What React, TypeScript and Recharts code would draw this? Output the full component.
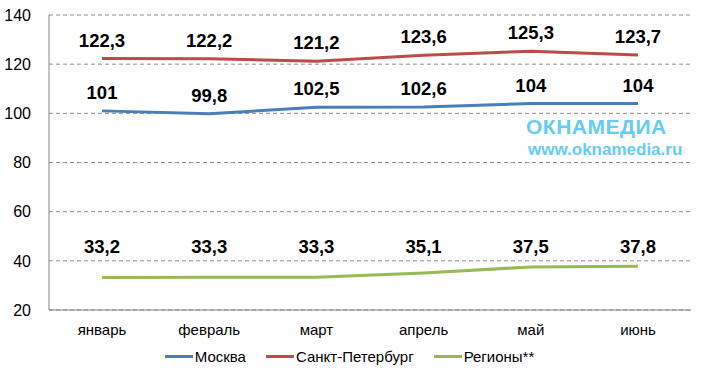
import { LineChart, Line, XAxis, YAxis, CartesianGrid, Legend, LabelList } from 'recharts'

const months = ['январь', 'февраль', 'март', 'апрель', 'май', 'июнь']
const moscow = [101, 99.8, 102.5, 102.6, 104, 104]
const spb = [122.3, 122.2, 121.2, 123.6, 125.3, 123.7]
const regions = [33.2, 33.3, 33.3, 35.1, 37.5, 37.8]
const yTicks = [20, 40, 60, 80, 100, 120, 140]

const seriesNames = ['Москва', 'Санкт-Петербург', 'Регионы**']
const seriesColors = ['#4A7EBB', '#BE4B48', '#98B954']

const data = months.map((m, i) => ({ month: m, moscow: moscow[i], spb: spb[i], regions: regions[i] }))

const fmt = (v: any) => String(v).replace('.', ',')

// excel had the regions labels dragged to a common height
const PX_PER_UNIT = 294 / 120
const regionsTop = Math.max(...regions)

function TopLabel(props: any) {
  const { x, y, value } = props
  return (
    <text x={x} y={y - 12} textAnchor="middle" fontSize={18.5} fontWeight="bold" fill="#000" fontFamily="Arial, 'Liberation Sans'">
      {fmt(value)}
    </text>
  )
}

function RegionLabel(props: any) {
  const { x, y, value } = props
  const lift = (regionsTop - value) * PX_PER_UNIT
  return (
    <text x={x} y={y - 13 - lift} textAnchor="middle" fontSize={18.5} fontWeight="bold" fill="#000" fontFamily="Arial, 'Liberation Sans'">
      {fmt(value)}
    </text>
  )
}

function LegendBox() {
  return (
    <div style={{ display: 'flex', justifyContent: 'center', gap: 20, fontSize: 15, color: '#000', paddingLeft: 8 }}>
      {seriesNames.map((n, i) => (
        <div key={n} style={{ display: 'flex', alignItems: 'center' }}>
          <span style={{ display: 'inline-block', width: 28, height: 3, background: seriesColors[i], marginRight: 2 }} />
          <span>{n}</span>
        </div>
      ))}
    </div>
  )
}

export default function App() {
  return (
    <div style={{ position: 'absolute', left: 0, top: 0, width: 703, height: 378, background: '#fff', fontFamily: "Arial, 'Liberation Sans', sans-serif" }}>
      <LineChart width={703} height={378} data={data} margin={{ top: 15, right: 12, left: 0, bottom: 0 }}>
        <CartesianGrid vertical={false} strokeDasharray="4 3" stroke="#8c8c8c" />
        <XAxis dataKey="month" padding={{ left: 53, right: 53 }} tickLine={false} axisLine={{ stroke: '#868686' }}
          tick={{ fill: '#000', fontSize: 15 }} height={34} tickMargin={8} />
        <YAxis domain={[20, 140]} ticks={yTicks} width={49} tickLine={false} axisLine={{ stroke: '#868686' }}
          tick={{ fill: '#000', fontSize: 16 }} tickMargin={12} />
        <Legend verticalAlign="bottom" height={30} content={LegendBox} wrapperStyle={{ paddingTop: 4 }} />
        <Line dataKey="moscow" name={seriesNames[0]} stroke={seriesColors[0]} strokeWidth={3} dot={false} isAnimationActive={false}>
          <LabelList dataKey="moscow" content={TopLabel} />
        </Line>
        <Line dataKey="spb" name={seriesNames[1]} stroke={seriesColors[1]} strokeWidth={3} dot={false} isAnimationActive={false}>
          <LabelList dataKey="spb" content={TopLabel} />
        </Line>
        <Line dataKey="regions" name={seriesNames[2]} stroke={seriesColors[2]} strokeWidth={3} dot={false} isAnimationActive={false}>
          <LabelList dataKey="regions" content={RegionLabel} />
        </Line>
      </LineChart>
      <div style={{ position: 'absolute', left: 526, top: 116, color: '#66CCF5', fontWeight: 'bold', fontSize: 21, letterSpacing: 0.5, lineHeight: '22px' }}>
        ОКНАМЕДИА
      </div>
      <div style={{ position: 'absolute', left: 528, top: 140, color: '#66CCF5', fontWeight: 'bold', fontSize: 17, lineHeight: '20px' }}>
        www.oknamedia.ru
      </div>
    </div>
  )
}
